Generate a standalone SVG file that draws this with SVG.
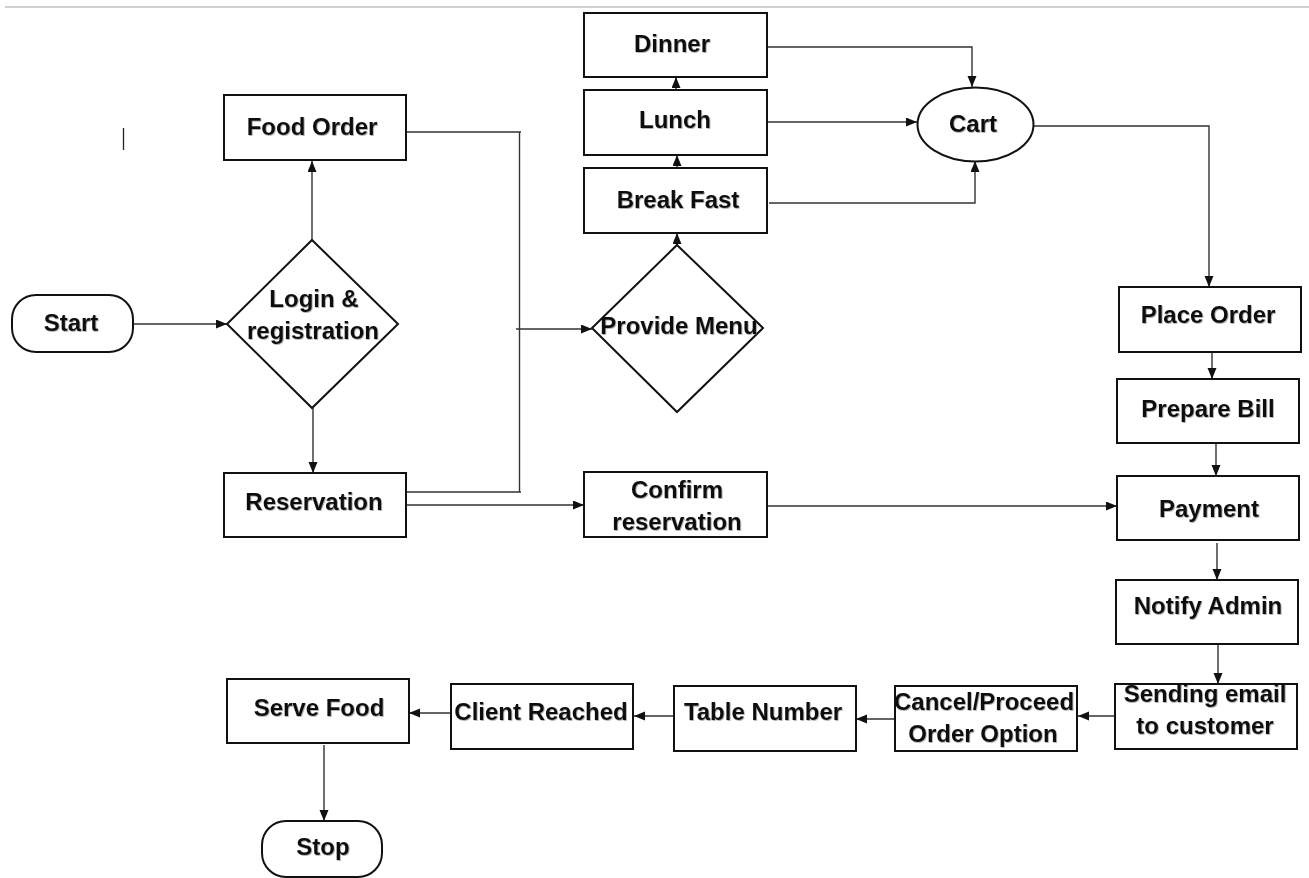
<svg xmlns="http://www.w3.org/2000/svg" width="1309" height="878" viewBox="0 0 1309 878">
<defs>
<marker id="arr" markerUnits="userSpaceOnUse" markerWidth="12" markerHeight="10" refX="11" refY="4.5" orient="auto">
<path d="M0,0 L11,4.5 L0,9 z" fill="#111"/>
</marker>
<filter id="sh" x="-5%" y="-20%" width="110%" height="140%">
<feDropShadow dx="0.8" dy="0.8" stdDeviation="0.7" flood-color="#555" flood-opacity="0.55"/>
</filter>
<style>
.box{fill:#fff;stroke:#111;stroke-width:2}
.t{font-family:"Liberation Sans",Arial,sans-serif;font-weight:bold;font-size:24px;fill:#111;text-anchor:middle;filter:url(#sh)}
.c{fill:none;stroke:#333;stroke-width:1.4}
.ca{fill:none;stroke:#333;stroke-width:1.4;marker-end:url(#arr)}
</style>
</defs>
<rect width="1309" height="878" fill="#fff"/>
<line x1="5" y1="7" x2="1309" y2="7" stroke="#cfcfcf" stroke-width="2"/>
<line x1="123.5" y1="128" x2="123.5" y2="150" stroke="#222" stroke-width="1.3"/>

<g id="connectors">
<path class="ca" d="M133,324 H227"/>
<path class="ca" d="M312,240 V161"/>
<path class="ca" d="M313,408 V473"/>
<path class="c" d="M406,132 H521"/>
<path class="c" d="M519.5,132 V492"/>
<path class="c" d="M406,492 H521"/>
<path class="ca" d="M516,329 H592"/>
<path class="ca" d="M406,505 H584"/>
<path class="ca" d="M767,506 H1117"/>
<path class="ca" d="M677,245 V233"/>
<path class="ca" d="M677,168 V155"/>
<path class="ca" d="M676,90 V77"/>
<path class="ca" d="M767,47 H972 V87"/>
<path class="ca" d="M767,122 H917"/>
<path class="ca" d="M769,203 H975 V161"/>
<path class="ca" d="M1034,126 H1209 V287"/>
<path class="ca" d="M1212,352 V379"/>
<path class="ca" d="M1216,443 V476"/>
<path class="ca" d="M1217,543 V580"/>
<path class="ca" d="M1218,644 V684"/>
<path class="ca" d="M1115,716 H1078"/>
<path class="ca" d="M895,719 H856"/>
<path class="ca" d="M674,716 H634"/>
<path class="ca" d="M451,713 H409"/>
<path class="ca" d="M324,745 V821"/>
</g>

<g id="start"><rect class="box" x="12" y="295" width="121" height="57" rx="24"/><text class="t" x="71" y="331">Start</text></g>
<g id="login"><polygon class="box" points="312,240 398,324 312,408 227,324"/><text class="t" x="314" y="307">Login &amp;</text><text class="t" x="313" y="339">registration</text></g>
<g id="food-order"><rect class="box" x="224" y="95" width="182" height="65"/><text class="t" x="312" y="135">Food Order</text></g>
<g id="reservation"><rect class="box" x="224" y="473" width="182" height="64"/><text class="t" x="314" y="510">Reservation</text></g>
<g id="provide-menu"><polygon class="box" points="677,245 763,328 677,412 592,328"/><text class="t" x="679" y="334">Provide Menu</text></g>
<g id="breakfast"><rect class="box" x="584" y="168" width="183" height="65"/><text class="t" x="678" y="208">Break Fast</text></g>
<g id="lunch"><rect class="box" x="584" y="90" width="183" height="65"/><text class="t" x="675" y="128">Lunch</text></g>
<g id="dinner"><rect class="box" x="584" y="13" width="183" height="64"/><text class="t" x="672" y="52">Dinner</text></g>
<g id="cart"><ellipse class="box" cx="975.5" cy="124.5" rx="58" ry="37"/><text class="t" x="973" y="132">Cart</text></g>
<g id="confirm"><rect class="box" x="584" y="472" width="183" height="65"/><text class="t" x="677" y="498">Confirm</text><text class="t" x="677" y="530">reservation</text></g>
<g id="place-order"><rect class="box" x="1119" y="287" width="182" height="65"/><text class="t" x="1208" y="323">Place Order</text></g>
<g id="prepare-bill"><rect class="box" x="1117" y="379" width="182" height="64"/><text class="t" x="1208" y="417">Prepare Bill</text></g>
<g id="payment"><rect class="box" x="1117" y="476" width="182" height="64"/><text class="t" x="1209" y="517">Payment</text></g>
<g id="notify-admin"><rect class="box" x="1116" y="580" width="182" height="64"/><text class="t" x="1208" y="614">Notify Admin</text></g>
<g id="sending-email"><rect class="box" x="1115" y="684" width="182" height="65"/><text class="t" x="1205" y="702">Sending email</text><text class="t" x="1205" y="734">to customer</text></g>
<g id="cancel-proceed"><rect class="box" x="895" y="686" width="182" height="65"/><text class="t" x="984" y="710">Cancel/Proceed</text><text class="t" x="983" y="742">Order Option</text></g>
<g id="table-number"><rect class="box" x="674" y="686" width="182" height="65"/><text class="t" x="763" y="720">Table Number</text></g>
<g id="client-reached"><rect class="box" x="451" y="684" width="182" height="65"/><text class="t" x="541" y="720">Client Reached</text></g>
<g id="serve-food"><rect class="box" x="227" y="679" width="182" height="64"/><text class="t" x="319" y="716">Serve Food</text></g>
<g id="stop"><rect class="box" x="262" y="821" width="120" height="56" rx="24"/><text class="t" x="323" y="855">Stop</text></g>
</svg>
